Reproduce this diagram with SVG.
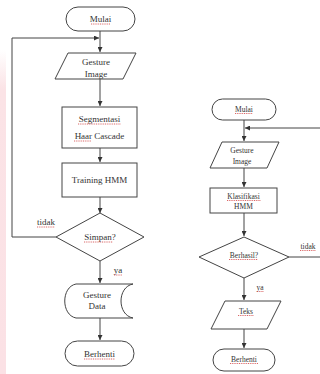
<svg xmlns="http://www.w3.org/2000/svg" width="320" height="374" viewBox="0 0 320 374">
<defs>
<linearGradient id="pink" x1="0" y1="0" x2="0" y2="1">
<stop offset="0" stop-color="#ffffff"/>
<stop offset="0.12" stop-color="#fbe3e6"/>
<stop offset="1" stop-color="#fbe1e5"/>
</linearGradient>
<marker id="arr" viewBox="0 0 6 6" refX="6" refY="3" markerWidth="5" markerHeight="5" orient="auto" markerUnits="userSpaceOnUse">
<path d="M0,0 L6,3 L0,6 Z" fill="#333"/>
</marker>
</defs>
<style>
.shape{fill:#fff;stroke:#444;stroke-width:1}
.con{fill:none;stroke:#444;stroke-width:1}
.t{font-family:"Liberation Serif","Times New Roman",serif;font-size:9px;fill:#333;text-anchor:middle}
.s{font-size:7.5px}
.sq{stroke:#d04040;stroke-width:0.8;stroke-dasharray:1 0.8;fill:none}
</style>
<rect x="0" y="50" width="6" height="324" fill="url(#pink)"/>

<g id="connectors">
<path class="con" d="M100,31 V52" marker-end="url(#arr)"/>
<path class="con" d="M56,237 H12 V38 H99" marker-end="url(#arr)"/>
<path class="con" d="M100,79 V106" marker-end="url(#arr)"/>
<path class="con" d="M100,148 V162" marker-end="url(#arr)"/>
<path class="con" d="M100,197 V213" marker-end="url(#arr)"/>
<path class="con" d="M100,261 V283" marker-end="url(#arr)"/>
<path class="con" d="M100,318 V340" marker-end="url(#arr)"/>
<path class="con" d="M244,120 V141" marker-end="url(#arr)"/>
<path class="con" d="M320,128 H245" marker-end="url(#arr)"/>
<path class="con" d="M244,168 V187" marker-end="url(#arr)"/>
<path class="con" d="M244,213 V236" marker-end="url(#arr)"/>
<path class="con" d="M289,257 H320"/>
<path class="con" d="M244,278 V300" marker-end="url(#arr)"/>
<path class="con" d="M244,329 V348" marker-end="url(#arr)"/>
<text class="t" x="46" y="225">tidak</text>
<path class="sq" d="M37,227 H55"/>
<text class="t" x="118" y="273">ya</text>
<path class="sq" d="M114,275 H122"/>
<text class="t s" x="308" y="249">tidak</text>
<path class="sq" d="M300,250.5 H316"/>
<text class="t s" x="260" y="290">ya</text>
<path class="sq" d="M257,291.5 H264"/>
</g>

<g id="L_mulai">
<rect class="shape" x="66" y="7" width="69" height="24" rx="12"/>
<text class="t" x="100.5" y="22">Mulai</text>
<path class="sq" d="M91,24 H110"/>
</g>
<g id="L_gesture_image">
<path class="shape" d="M68,53 H136 L123,79 H55 Z"/>
<text class="t" x="96" y="65">Gesture</text>
<text class="t" x="96" y="77">Image</text>
</g>
<g id="L_segmentasi">
<rect class="shape" x="62" y="107" width="75" height="41"/>
<text class="t" x="99.5" y="122">Segmentasi</text>
<path class="sq" d="M78,124 H121"/>
<text class="t" x="99.5" y="139">Haar Cascade</text>
<path class="sq" d="M74,141 H91"/>
</g>
<g id="L_training">
<rect class="shape" x="62" y="163" width="75" height="34"/>
<text class="t" x="99.5" y="183">Training HMM</text>
</g>
<g id="L_simpan">
<path class="shape" d="M100,213 L144,237 L100,261 L56,237 Z"/>
<text class="t" x="100" y="240">Simpan?</text>
<path class="sq" d="M84,242 H113"/>
</g>
<g id="L_gesture_data">
<path class="shape" d="M76,284 H133 C117,287 117,315 133,318 H76 C61,315 61,287 76,284 Z"/>
<text class="t" x="97" y="298">Gesture</text>
<text class="t" x="97" y="309">Data</text>
</g>
<g id="L_berhenti">
<rect class="shape" x="65" y="341" width="69" height="25" rx="12.5"/>
<text class="t" x="99.5" y="357">Berhenti</text>
<path class="sq" d="M84,359 H115"/>
</g>

<g id="R_mulai">
<rect class="shape" x="212" y="99" width="64" height="21" rx="10.5"/>
<text class="t s" x="244" y="112">Mulai</text>
<path class="sq" d="M235,113.5 H253"/>
</g>
<g id="R_gesture_image">
<path class="shape" d="M222,142 H279 L267,168 H210 Z"/>
<text class="t s" x="242" y="153">Gesture</text>
<text class="t s" x="242" y="164">Image</text>
</g>
<g id="R_klasifikasi">
<rect class="shape" x="210" y="188" width="67" height="25"/>
<text class="t s" x="243.5" y="199">Klasifikasi</text>
<path class="sq" d="M227,200.5 H261"/>
<text class="t s" x="243.5" y="209">HMM</text>
</g>
<g id="R_berhasil">
<path class="shape" d="M244,237 L289,257 L244,278 L199,257 Z"/>
<text class="t s" x="244" y="258">Berhasil?</text>
<path class="sq" d="M229,259.5 H258"/>
</g>
<g id="R_teks">
<path class="shape" d="M225,301 H281 L267,329 H211 Z"/>
<text class="t s" x="246" y="314">Teks</text>
<path class="sq" d="M238,315.5 H254"/>
</g>
<g id="R_berhenti">
<rect class="shape" x="213" y="349" width="62" height="22" rx="11"/>
<text class="t s" x="244" y="362">Berhenti</text>
<path class="sq" d="M230,363.5 H258"/>
</g>
</svg>
